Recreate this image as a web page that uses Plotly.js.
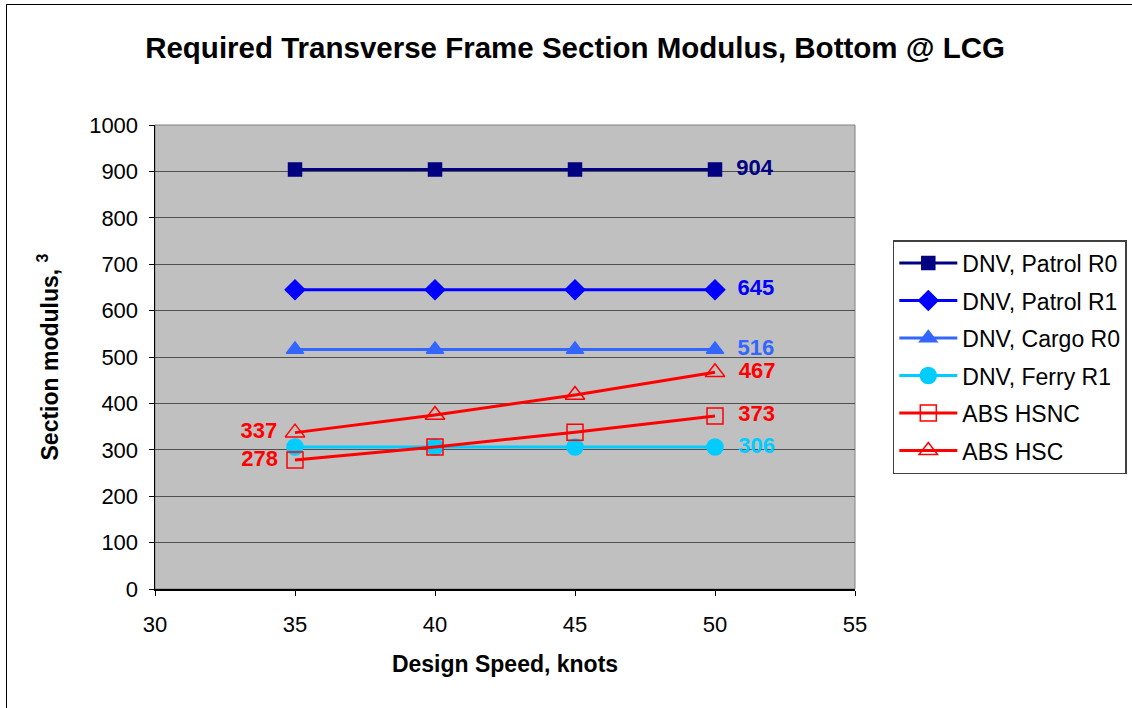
<!DOCTYPE html>
<html>
<head>
<meta charset="utf-8">
<script src="https://cdn.plot.ly/plotly-3.0.1.min.js"></script>
<style>
  html, body { margin: 0; padding: 0; background: #fff; }
  #wrap { position: relative; width: 1132px; height: 708px; overflow: hidden; }
  #frame { position: absolute; left: 6px; top: 4px; width: 1140px; height: 720px;
           border-top: 1.5px solid #000; border-left: 1.5px solid #000; pointer-events: none; }
  #chart { position: absolute; left: 0; top: 0; width: 1132px; height: 708px; }
</style>
</head>
<body>
<div id="wrap">
  <div id="chart"></div>
  <div id="frame"></div>
</div>
<script>
const speeds = [35, 40, 45, 50];
const patrolR0 = [904, 904, 904, 904];
const patrolR1 = [645, 645, 645, 645];
const cargoR0  = [516, 516, 516, 516];
const ferryR1  = [306, 306, 306, 306];
const absHSNC  = [278, 306, 338, 373];
const absHSC   = [337, 375, 418, 467];

const seriesNames = ["DNV, Patrol R0", "DNV, Patrol R1", "DNV, Cargo R0", "DNV, Ferry R1", "ABS HSNC", "ABS HSC"];
const seriesColors = ["#000080", "#0000FF", "#3366FF", "#00CCFF", "#FF0000", "#FF0000"];
const seriesSymbols = ["square", "diamond", "triangle-up", "circle", "square-open", "triangle-up-open"];
const seriesSizes = [13, 15, 15, 16, 16, 17];
const seriesData = [patrolR0, patrolR1, cargoR0, ferryR1, absHSNC, absHSC];
// which points get a value label, and where
const labelEnd = [true, true, true, true, true, true];
const labelStart = [false, false, false, false, true, true];

const traces = seriesData.map((ys, i) => {
  const txt = ys.map((v, j) => {
    if (j === ys.length - 1 && labelEnd[i]) return "&nbsp;&nbsp;" + String(v);
    if (j === 0 && labelStart[i]) return String(v) + "&nbsp;";
    return "";
  });
  const pos = ys.map((v, j) => (j === 0 ? "middle left" : "middle right"));
  return {
    x: speeds, y: ys, name: seriesNames[i], type: "scatter",
    mode: "lines+markers+text",
    text: txt, textposition: pos,
    textfont: { family: "Liberation Sans, Arial, sans-serif", size: 22, color: seriesColors[i], weight: "bold" },
    line: { color: seriesColors[i], width: 3 },
    marker: { color: seriesColors[i], symbol: seriesSymbols[i], size: seriesSizes[i],
              line: { color: seriesColors[i], width: 1.5 } },
    legendgroup: "g" + i,
    cliponaxis: false
  };
});

const layout = {
  width: 1132, height: 708,
  paper_bgcolor: "rgba(0,0,0,0)",
  plot_bgcolor: "#C0C0C0",
  margin: { l: 155, r: 277, t: 125, b: 119, autoexpand: false },
  font: { family: "Liberation Sans, Arial, sans-serif", color: "#000" },
  title: { text: "<b>Required Transverse Frame Section Modulus, Bottom @ LCG</b>",
           font: { size: 29.5, color: "#000" }, x: 0.508, xanchor: "center", y: 0.933, yanchor: "middle" },
  xaxis: {
    range: [30, 55], dtick: 5, tick0: 30,
    showgrid: false, zeroline: false,
    showline: true, linecolor: "#000", linewidth: 1.5,
    ticks: "outside", ticklen: 5, tickcolor: "#000",
    tickfont: { size: 22 }, ticklabelstandoff: 10,
    title: { text: "<b>Design Speed, knots</b>", font: { size: 23 }, standoff: 20 }
  },
  yaxis: {
    range: [0, 1000], dtick: 100, tick0: 0,
    showgrid: true, gridcolor: "#505050", gridwidth: 1, zeroline: false,
    showline: true, linecolor: "#000", linewidth: 1.5,
    ticks: "outside", ticklen: 5, tickcolor: "#000",
    tickfont: { size: 22 }, ticklabelstandoff: 6,
    title: { text: "<b>Section modulus, <sup>3</sup></b>", font: { size: 23 }, standoff: 24 }
  },
  shapes: [
    { type: "rect", xref: "paper", yref: "paper", x0: 0, x1: 1, y0: 0, y1: 1,
      line: { color: "#808080", width: 1 }, fillcolor: "rgba(0,0,0,0)", layer: "below" }
  ],
  showlegend: true,
  legend: {
    x: 1.054, y: 0.752, xanchor: "left", yanchor: "top",
    bgcolor: "#FFFFFF", bordercolor: "#404040", borderwidth: 1.5,
    font: { size: 23, color: "#000" },
    itemwidth: 58, tracegroupgap: 4.6, traceorder: "grouped"
  }
};

Plotly.newPlot("chart", traces, layout, { displayModeBar: false, staticPlot: true });
</script>
</body>
</html>
